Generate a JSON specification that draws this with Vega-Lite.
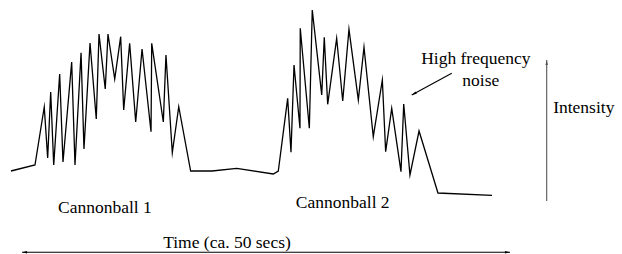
{
  "$schema": "https://vega.github.io/schema/vega-lite/v6.json",
  "width": 622,
  "height": 254,
  "autosize": {"type": "fit", "contains": "padding"},
  "padding": 0,
  "background": "white",
  "config": {"view": {"stroke": null}},
  "datasets": {
    "signal": [
      {"i": 1, "t": -1.13, "I": 30},
      {"i": 2, "t": 1.33, "I": 36},
      {"i": 3, "t": 2.28, "I": 94},
      {"i": 4, "t": 2.63, "I": 43},
      {"i": 5, "t": 2.94, "I": 109},
      {"i": 6, "t": 3.25, "I": 36},
      {"i": 7, "t": 3.86, "I": 127},
      {"i": 8, "t": 4.2, "I": 39},
      {"i": 9, "t": 5.09, "I": 139},
      {"i": 10, "t": 5.43, "I": 36},
      {"i": 11, "t": 6.05, "I": 148.3},
      {"i": 12, "t": 6.35, "I": 52},
      {"i": 13, "t": 6.97, "I": 158},
      {"i": 14, "t": 7.61, "I": 82},
      {"i": 15, "t": 7.89, "I": 167},
      {"i": 16, "t": 8.53, "I": 112},
      {"i": 17, "t": 8.81, "I": 167},
      {"i": 18, "t": 9.5, "I": 122},
      {"i": 19, "t": 10.11, "I": 164.3},
      {"i": 20, "t": 10.42, "I": 91},
      {"i": 21, "t": 11.03, "I": 157.7},
      {"i": 22, "t": 11.65, "I": 79},
      {"i": 23, "t": 12.3, "I": 152},
      {"i": 24, "t": 13.22, "I": 69.3},
      {"i": 25, "t": 13.29, "I": 157.7},
      {"i": 26, "t": 14.48, "I": 79},
      {"i": 27, "t": 14.75, "I": 146},
      {"i": 28, "t": 15.4, "I": 48.3},
      {"i": 29, "t": 16.06, "I": 94.3},
      {"i": 30, "t": 17.28, "I": 30},
      {"i": 31, "t": 19.47, "I": 30},
      {"i": 32, "t": 22.0, "I": 32.7},
      {"i": 33, "t": 25.75, "I": 27},
      {"i": 34, "t": 26.26, "I": 30},
      {"i": 35, "t": 27.22, "I": 102.7},
      {"i": 36, "t": 27.56, "I": 48.7},
      {"i": 37, "t": 27.87, "I": 136},
      {"i": 38, "t": 28.48, "I": 72.7},
      {"i": 39, "t": 28.51, "I": 172.7},
      {"i": 40, "t": 29.44, "I": 72.7},
      {"i": 41, "t": 29.74, "I": 191},
      {"i": 42, "t": 30.71, "I": 106},
      {"i": 43, "t": 30.97, "I": 163.7},
      {"i": 44, "t": 31.32, "I": 96.7},
      {"i": 45, "t": 32.24, "I": 162.7},
      {"i": 46, "t": 32.86, "I": 100},
      {"i": 47, "t": 33.5, "I": 171.7},
      {"i": 48, "t": 34.46, "I": 101},
      {"i": 49, "t": 35.04, "I": 153.7},
      {"i": 50, "t": 35.99, "I": 64.3},
      {"i": 51, "t": 36.92, "I": 121},
      {"i": 52, "t": 37.26, "I": 49.3},
      {"i": 53, "t": 37.88, "I": 92.7},
      {"i": 54, "t": 38.83, "I": 29.3},
      {"i": 55, "t": 39.11, "I": 97},
      {"i": 56, "t": 39.75, "I": 26},
      {"i": 57, "t": 40.68, "I": 70},
      {"i": 58, "t": 42.62, "I": 8},
      {"i": 59, "t": 48.16, "I": 5.7}
    ],
    "arrows": [
      {"arrow": "time", "t": 0, "I": -51.3, "t2": 50, "I2": -51.3},
      {"arrow": "intensity", "t": 53.76, "I": 0, "t2": 53.76, "I2": 141},
      {"arrow": "noise", "t": 44.03, "I": 127.7, "t2": 39.93, "I2": 106}
    ],
    "heads": [
      {"head": "time-left", "t": 0, "I": -51.3},
      {"head": "time-right", "t": 50, "I": -51.3},
      {"head": "intensity-top", "t": 53.76, "I": 141},
      {"head": "noise-tip", "t": 39.93, "I": 106}
    ],
    "labels": [
      {"label": "Cannonball 1", "t": 8.5, "I": -7.3},
      {"label": "Cannonball 2", "t": 32.86, "I": -1.7},
      {"label": "Time (ca. 50 secs)", "t": 21.0, "I": -41.7},
      {"label": "High frequency", "t": 46.5, "I": 141.7},
      {"label": "noise", "t": 47.01, "I": 120.3},
      {"label": "Intensity", "t": 57.56, "I": 92.7}
    ]
  },
  "encoding": {
    "x": {"field": "t", "type": "quantitative", "axis": null, "scale": {"domain": [-2.254, 61.475], "nice": false, "zero": false}},
    "y": {"field": "I", "type": "quantitative", "axis": null, "scale": {"domain": [-53, 201], "nice": false, "zero": false}}
  },
  "layer": [
    {
      "data": {"name": "signal"},
      "mark": {"type": "line", "color": "black", "strokeWidth": 1.3, "strokeJoin": "miter", "strokeMiterLimit": 10},
      "encoding": {"order": {"field": "i", "type": "quantitative"}}
    },
    {
      "data": {"name": "arrows"},
      "mark": {"type": "rule", "strokeWidth": 1.1},
      "encoding": {
        "x2": {"field": "t2"},
        "y2": {"field": "I2"},
        "color": {"field": "arrow", "type": "nominal", "legend": null, "scale": {"domain": ["time", "intensity", "noise"], "range": ["#000000", "#555555", "#000000"]}}
      }
    },
    {
      "data": {"name": "heads"},
      "transform": [{"filter": "datum.head === 'time-left'"}],
      "mark": {"type": "point", "shape": "M0,0L1.6,0.4L1.6,-0.4Z", "filled": true, "color": "black", "size": 40, "opacity": 1}
    },
    {
      "data": {"name": "heads"},
      "transform": [{"filter": "datum.head === 'time-right'"}],
      "mark": {"type": "point", "shape": "M0,0L-1.6,0.4L-1.6,-0.4Z", "filled": true, "color": "black", "size": 40, "opacity": 1}
    },
    {
      "data": {"name": "heads"},
      "transform": [{"filter": "datum.head === 'intensity-top'"}],
      "mark": {"type": "point", "shape": "M0,0L0.4,1.6L-0.4,1.6Z", "filled": true, "color": "#555555", "size": 40, "opacity": 1}
    },
    {
      "data": {"name": "heads"},
      "transform": [{"filter": "datum.head === 'noise-tip'"}],
      "mark": {"type": "point", "shape": "M0,0L0.4,1.6L-0.4,1.6Z", "filled": true, "color": "black", "size": 40, "opacity": 1, "angle": 241.5}
    },
    {
      "data": {"name": "labels"},
      "mark": {"type": "text", "font": "Liberation Serif", "fontSize": 17.5, "color": "black", "align": "center", "baseline": "middle"},
      "encoding": {"text": {"field": "label", "type": "nominal"}}
    }
  ]
}
